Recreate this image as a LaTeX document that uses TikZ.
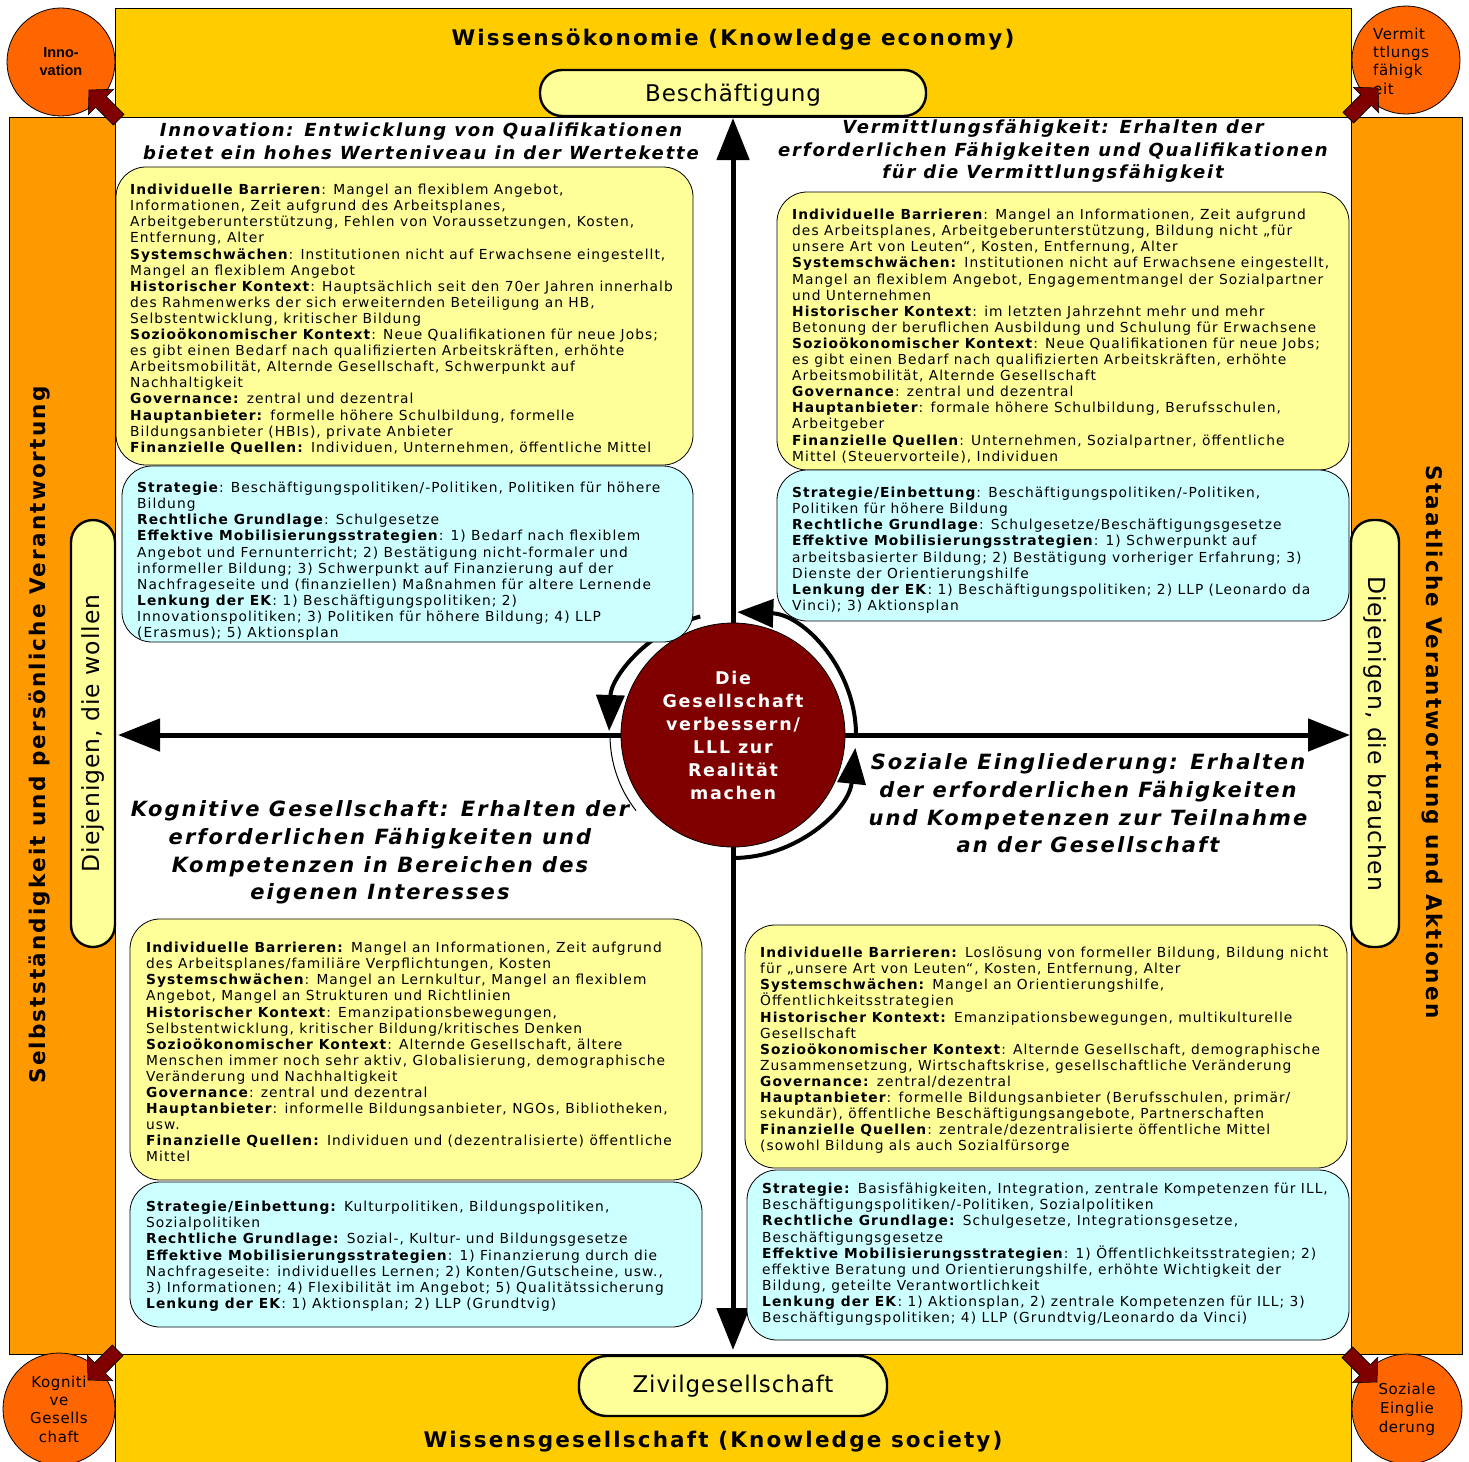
\documentclass[tikz,border=0pt]{standalone}
\usepackage{fontspec}
\setmainfont{DejaVu Sans}[LetterSpace=7.5]
\newfontfamily\ttlfont{DejaVu Sans}[LetterSpace=10]
\newfontfamily\midfont{DejaVu Sans}[LetterSpace=4]
\newfontfamily\arialfont{Liberation Sans}
\usetikzlibrary{arrows.meta}
\definecolor{bandY}{HTML}{FFCC00}
\definecolor{bandO}{HTML}{FF9900}
\definecolor{cornerC}{HTML}{FF6600}
\definecolor{paleY}{HTML}{FFFF99}
\definecolor{paleC}{HTML}{CCFFFF}
\definecolor{dred}{HTML}{800000}
\tikzset{
  bandbox/.style={draw=black, line width=0.8pt, inner sep=0pt, anchor=north west},
  ybox/.style={draw=black, line width=0.8pt, rounded corners=30pt, fill=paleY},
  cbox/.style={draw=black, line width=0.8pt, rounded corners=30pt, fill=paleC},
  blk/.style={anchor=north west, align=left, inner sep=0pt, font=\fontsize{13.8}{16.1}\selectfont},
  qtitle/.style={align=center, inner sep=0pt, font=\ttlfont\bfseries\itshape\fontsize{18}{22.8}\selectfont},
  qtitleL/.style={align=center, inner sep=0pt, font=\ttlfont\bfseries\itshape\fontsize{21}{27.7}\selectfont},
  bigtitle/.style={inner sep=0pt, font=\ttlfont\bfseries\fontsize{21.5}{25}\selectfont},
  pill/.style={draw=black, line width=2.4pt, fill=paleY, inner sep=0pt, font=\midfont\fontsize{23}{27}\selectfont},
  cornerc/.style={circle, draw=black, line width=0.8pt, fill=cornerC, inner sep=0pt, align=center},
  axisline/.style={line width=5pt, {Triangle[length=42pt,width=32pt]}-{Triangle[length=42pt,width=32pt]}},
  arcline/.style={line width=4pt, -{Triangle[length=36pt,width=28pt]}},
}
\newcommand\cornerarrow[3]{%
  \begin{scope}[shift={(#1,#2)},rotate=#3]
    \draw[fill=dred, line width=0.6pt] (0,0) -- (17,18) -- (17,7.5) -- (42,7.5) -- (42,-7.5) -- (17,-7.5) -- (17,-18) -- cycle;
  \end{scope}}
\begin{document}
\begin{tikzpicture}[x=1pt,y=-1pt]
\useasboundingbox (0,0) rectangle (1469,1461);
\clip (0,0) rectangle (1469,1461);
\fill[white] (0,0) rectangle (1469,1461);

% bands
\node[bandbox, fill=bandY, minimum width=1236pt, minimum height=109pt] (topband) at (115,8) {};
\node[bandbox, fill=bandY, minimum width=1236pt, minimum height=112pt] (botband) at (115,1354) {};
\node[bandbox, fill=bandO, minimum width=106pt, minimum height=1237pt] (leftband) at (9,117) {};
\node[bandbox, fill=bandO, minimum width=111pt, minimum height=1237pt] (rightband) at (1351,117) {};

% corner circles
\node[cornerc, minimum size=108pt, font=\arialfont\bfseries\fontsize{14.5}{18}\selectfont] (cTL) at (61,62) {Inno-\\vation};
\node[cornerc, minimum size=108pt] (cTR) at (1406,60) {};
\node[anchor=west, align=left, inner sep=0pt, font=\midfont\fontsize{15}{18.3}\selectfont] (tTR) at (1373,61) {Vermit\\ttlungs\\fähigk\\eit};
\node[cornerc, minimum size=112pt, font=\midfont\fontsize{15}{18.3}\selectfont] (cBL) at (59,1409) {Kogniti\\ve\\Gesells\\chaft};
\node[cornerc, minimum size=110pt, font=\midfont\fontsize{15}{19}\selectfont] (cBR) at (1407,1409) {Soziale\\Einglie\\derung};

% corner arrows
\cornerarrow{89}{90}{-45}
\cornerarrow{1378}{88}{-135}
\cornerarrow{88}{1380}{45}
\cornerarrow{1377}{1382}{135}

% titles
\node[bigtitle] (ttop) at (733,40) {Wissensökonomie (Knowledge economy)};
\node[bigtitle] (tbot) at (713,1442) {Wissensgesellschaft (Knowledge society)};
\node[pill, rounded corners=22pt, minimum width=386pt, minimum height=46pt, text depth=0pt] (besch) at (733,93) {Beschäftigung};
\node[pill, rounded corners=28pt, minimum width=308pt, minimum height=60pt] (zivil) at (733,1386) {Zivilgesellschaft};

% side texts
\node[bigtitle, rotate=90] (tleft) at (40,735) {Selbstständigkeit und persönliche Verantwortung};
\node[bigtitle, rotate=-90] (tright) at (1432,742) {Staatliche Verantwortung und Aktionen};
\node[pill, rotate=90, rounded corners=22pt, minimum width=427pt, minimum height=44pt, font=\midfont\fontsize{23.5}{27}\selectfont] (wollen) at (93,733.5) {Diejenigen, die wollen};
\node[pill, rotate=-90, rounded corners=22pt, minimum width=427pt, minimum height=48pt, font=\midfont\fontsize{23.5}{27}\selectfont] (brauchen) at (1375,733.5) {Diejenigen, die brauchen};

% axes
\coordinate (axT) at (733,118);
\coordinate (axB) at (733,1350);
\coordinate (axL) at (118,735);
\coordinate (axR) at (1350,735);
\draw[axisline] (axB) -- (axT);
\draw[axisline] (axL) -- (axR);

% cycle arcs
\draw[arcline] (733,858) arc[start angle=90, end angle=6, radius=123];
\draw[arcline] (856,735) arc[start angle=0, end angle=-88, radius=123];
\draw[arcline] (700.2,616.5) arc[start angle=-105, end angle=-178, radius=123];
\draw[line width=1pt] (610,735) arc[start angle=180, end angle=142, radius=123];

% center
\node[circle, draw=black, line width=0.8pt, fill=dred, minimum size=224pt, inner sep=0pt, text=white, align=center,
      font=\ttlfont\bfseries\fontsize{17.5}{23}\selectfont] (core) at (733,735)
      {Die\\Gesellschaft\\verbessern/\\LLL zur\\Realität\\machen};

% quadrant titles
\node[qtitle] (qTL) at (421,141) {Innovation: Entwicklung von Qualifikationen\\bietet ein hohes Werteniveau in der Wertekette};
\node[qtitle] (qTR) at (1053,151) {Vermittlungsfähigkeit: Erhalten der\\erforderlichen Fähigkeiten und Qualifikationen\\für die Vermittlungsfähigkeit};
\node[qtitleL] (qBL) at (380,852.5) {Kognitive Gesellschaft: Erhalten der\\erforderlichen Fähigkeiten und\\Kompetenzen in Bereichen des\\eigenen Interesses};
\node[qtitleL] (qBR) at (1088,803.5) {Soziale Eingliederung: Erhalten\\der erforderlichen Fähigkeiten\\und Kompetenzen zur Teilnahme\\an der Gesellschaft};

% boxes
\draw[ybox] (116,167) rectangle (693,465);
\draw[cbox] (122,466) rectangle (693,642);
\draw[ybox] (777,192) rectangle (1349,470);
\draw[cbox] (777,470) rectangle (1349,621);
\draw[ybox] (130,919) rectangle (702,1180);
\draw[cbox] (130,1182) rectangle (702,1327);
\draw[ybox] (745,925) rectangle (1347,1168);
\draw[cbox] (747,1170) rectangle (1349,1340);

% block texts
\node[blk] (bTLy) at (130,184) {\textbf{Individuelle Barrieren}: Mangel an flexiblem Angebot,\\
Informationen, Zeit aufgrund des Arbeitsplanes,\\
Arbeitgeberunterstützung, Fehlen von Voraussetzungen, Kosten,\\
Entfernung, Alter\\
\textbf{Systemschwächen}: Institutionen nicht auf Erwachsene eingestellt,\\
Mangel an flexiblem Angebot\\
\textbf{Historischer Kontext}: Hauptsächlich seit den 70er Jahren innerhalb\\
des Rahmenwerks der sich erweiternden Beteiligung an HB,\\
Selbstentwicklung, kritischer Bildung\\
\textbf{Sozioökonomischer Kontext}: Neue Qualifikationen für neue Jobs;\\
es gibt einen Bedarf nach qualifizierten Arbeitskräften, erhöhte\\
Arbeitsmobilität, Alternde Gesellschaft, Schwerpunkt auf\\
Nachhaltigkeit\\
\textbf{Governance:} zentral und dezentral\\
\textbf{Hauptanbieter:} formelle höhere Schulbildung, formelle\\
Bildungsanbieter (HBIs), private Anbieter\\
\textbf{Finanzielle Quellen:} Individuen, Unternehmen, öffentliche Mittel};

\node[blk] (bTLc) at (137,482) {\textbf{Strategie}: Beschäftigungspolitiken/-Politiken, Politiken für höhere\\
Bildung\\
\textbf{Rechtliche Grundlage}: Schulgesetze\\
\textbf{Effektive Mobilisierungsstrategien}: 1) Bedarf nach flexiblem\\
Angebot und Fernunterricht; 2) Bestätigung nicht-formaler und\\
informeller Bildung; 3) Schwerpunkt auf Finanzierung auf der\\
Nachfrageseite und (finanziellen) Maßnahmen für altere Lernende\\
\textbf{Lenkung der EK}: 1) Beschäftigungspolitiken; 2)\\
Innovationspolitiken; 3) Politiken für höhere Bildung; 4) LLP\\
(Erasmus); 5) Aktionsplan};

\node[blk] (bTRy) at (792,209) {\textbf{Individuelle Barrieren}: Mangel an Informationen, Zeit aufgrund\\
des Arbeitsplanes, Arbeitgeberunterstützung, Bildung nicht „für\\
unsere Art von Leuten“, Kosten, Entfernung, Alter\\
\textbf{Systemschwächen:} Institutionen nicht auf Erwachsene eingestellt,\\
Mangel an flexiblem Angebot, Engagementmangel der Sozialpartner\\
und Unternehmen\\
\textbf{Historischer Kontext}: im letzten Jahrzehnt mehr und mehr\\
Betonung der beruflichen Ausbildung und Schulung für Erwachsene\\
\textbf{Sozioökonomischer Kontext}: Neue Qualifikationen für neue Jobs;\\
es gibt einen Bedarf nach qualifizierten Arbeitskräften, erhöhte\\
Arbeitsmobilität, Alternde Gesellschaft\\
\textbf{Governance}: zentral und dezentral\\
\textbf{Hauptanbieter}: formale höhere Schulbildung, Berufsschulen,\\
Arbeitgeber\\
\textbf{Finanzielle Quellen}: Unternehmen, Sozialpartner, öffentliche\\
Mittel (Steuervorteile), Individuen};

\node[blk] (bTRc) at (792,487) {\textbf{Strategie/Einbettung}: Beschäftigungspolitiken/-Politiken,\\
Politiken für höhere Bildung\\
\textbf{Rechtliche Grundlage}: Schulgesetze/Beschäftigungsgesetze\\
\textbf{Effektive Mobilisierungsstrategien}: 1) Schwerpunkt auf\\
arbeitsbasierter Bildung; 2) Bestätigung vorheriger Erfahrung; 3)\\
Dienste der Orientierungshilfe\\
\textbf{Lenkung der EK}: 1) Beschäftigungspolitiken; 2) LLP (Leonardo da\\
Vinci); 3) Aktionsplan};

\node[blk] (bBLy) at (146,942) {\textbf{Individuelle Barrieren:} Mangel an Informationen, Zeit aufgrund\\
des Arbeitsplanes/familiäre Verpflichtungen, Kosten\\
\textbf{Systemschwächen}: Mangel an Lernkultur, Mangel an flexiblem\\
Angebot, Mangel an Strukturen und Richtlinien\\
\textbf{Historischer Kontext}: Emanzipationsbewegungen,\\
Selbstentwicklung, kritischer Bildung/kritisches Denken\\
\textbf{Sozioökonomischer Kontext}: Alternde Gesellschaft, ältere\\
Menschen immer noch sehr aktiv, Globalisierung, demographische\\
Veränderung und Nachhaltigkeit\\
\textbf{Governance}: zentral und dezentral\\
\textbf{Hauptanbieter}: informelle Bildungsanbieter, NGOs, Bibliotheken,\\
usw.\\
\textbf{Finanzielle Quellen:} Individuen und (dezentralisierte) öffentliche\\
Mittel};

\node[blk] (bBLc) at (146,1201) {\textbf{Strategie/Einbettung:} Kulturpolitiken, Bildungspolitiken,\\
Sozialpolitiken\\
\textbf{Rechtliche Grundlage:} Sozial-, Kultur- und Bildungsgesetze\\
\textbf{Effektive Mobilisierungsstrategien}: 1) Finanzierung durch die\\
Nachfrageseite: individuelles Lernen; 2) Konten/Gutscheine, usw.,\\
3) Informationen; 4) Flexibilität im Angebot; 5) Qualitätssicherung\\
\textbf{Lenkung der EK}: 1) Aktionsplan; 2) LLP (Grundtvig)};

\node[blk] (bBRy) at (760,947) {\textbf{Individuelle Barrieren:} Loslösung von formeller Bildung, Bildung nicht\\
für „unsere Art von Leuten“, Kosten, Entfernung, Alter\\
\textbf{Systemschwächen:} Mangel an Orientierungshilfe,\\
Öffentlichkeitsstrategien\\
\textbf{Historischer Kontext:} Emanzipationsbewegungen, multikulturelle\\
Gesellschaft\\
\textbf{Sozioökonomischer Kontext}: Alternde Gesellschaft, demographische\\
Zusammensetzung, Wirtschaftskrise, gesellschaftliche Veränderung\\
\textbf{Governance:} zentral/dezentral\\
\textbf{Hauptanbieter}: formelle Bildungsanbieter (Berufsschulen, primär/\\
sekundär), öffentliche Beschäftigungsangebote, Partnerschaften\\
\textbf{Finanzielle Quellen}: zentrale/dezentralisierte öffentliche Mittel\\
(sowohl Bildung als auch Sozialfürsorge};

\node[blk] (bBRc) at (762,1183) {\textbf{Strategie:} Basisfähigkeiten, Integration, zentrale Kompetenzen für ILL,\\
Beschäftigungspolitiken/-Politiken, Sozialpolitiken\\
\textbf{Rechtliche Grundlage:} Schulgesetze, Integrationsgesetze,\\
Beschäftigungsgesetze\\
\textbf{Effektive Mobilisierungsstrategien}: 1) Öffentlichkeitsstrategien; 2)\\
effektive Beratung und Orientierungshilfe, erhöhte Wichtigkeit der\\
Bildung, geteilte Verantwortlichkeit\\
\textbf{Lenkung der EK}: 1) Aktionsplan, 2) zentrale Kompetenzen für ILL; 3)\\
Beschäftigungspolitiken; 4) LLP (Grundtvig/Leonardo da Vinci)};
\end{tikzpicture}
\end{document}
